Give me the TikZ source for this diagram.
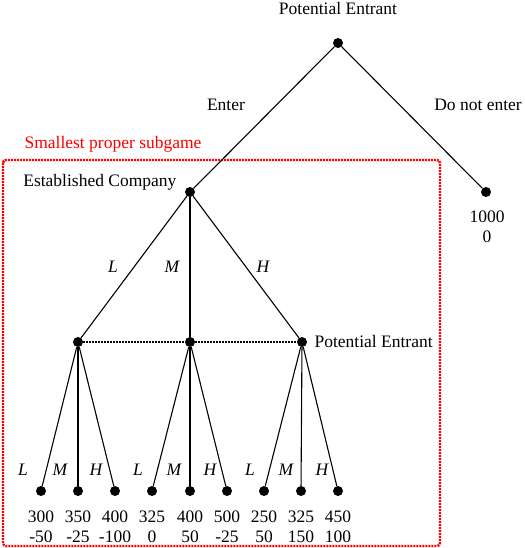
\documentclass[tikz,border=0pt]{standalone}
\usepackage{fontspec}
\setmainfont{Liberation Serif}
\usetikzlibrary{positioning,calc}

\begin{document}
\begin{tikzpicture}[x=1pt,y=-1pt,font=\fontsize{17.5}{20}\selectfont,
 dot/.style={circle, fill=black, inner sep=0pt, minimum size=10pt},
 edge/.style={line width=1.1pt},
 act/.style={font=\fontsize{17.5}{20}\selectfont\itshape},
 pay/.style={align=center, font=\fontsize{17.5}{20}\selectfont}]
  \useasboundingbox (0,0) rectangle (524,548);

  % subgame box
  \draw[red, line width=2.4pt, dash pattern=on 2pt off 1pt, rounded corners=3pt] (3,160) rectangle (440,546);
  \node[red] (sub) at (113,144) {Smallest proper subgame};

  % first move
  \node[dot] (root) at (338,43) {};
  \node (rootlab) at (338,9) {Potential Entrant};
  \node[dot] (ec) at (190,192) {};
  \node[anchor=east] (eclab) at (180,182) {Established Company};
  \node[dot] (out) at (486,192) {};
  \node[pay] (outpay) at (487,227) {1000\\0};
  \draw[edge] (root) -- (ec);
  \draw[edge] (root) -- (out);
  \node (enter) at (226,105) {Enter};
  \node (noenter) at (478,105) {Do not enter};

  % second move
  \node[dot] (pl) at (78,342) {};
  \node[dot] (pm) at (190,342) {};
  \node[dot] (ph) at (302,342) {};
  \draw[edge] (ec) -- (pl);
  \draw[edge] (ec) -- (pm);
  \draw[edge] (ec) -- (ph);
  \node[act] (al) at (113,267) {L};
  \node[act] (am) at (172,267) {M};
  \node[act] (ah) at (263,267) {H};
  \draw[line width=2.4pt, dash pattern=on 2pt off 1pt] (pl) -- (pm) -- (ph);
  \node[anchor=west] (pelab) at (311,342) {Potential Entrant};

  % third move
  \foreach \p/\i/\x/\a/\b in {pl/1/41/300/-50, pl/2/78/350/-25, pl/3/115/400/-100,
                              pm/4/152/325/0, pm/5/190/400/50, pm/6/227/500/-25,
                              ph/7/264/250/50, ph/8/301/325/150, ph/9/338/450/100}{
    \node[dot] (t\i) at (\x,491) {};
    \draw[edge] (\p) -- (t\i);
    \node[pay] (pay\i) at (\x,527) {\a\\\b};
  }
  \foreach \n/\x/\s in {1/23/L, 2/60/M, 3/96/H, 4/138/L, 5/174/M, 6/210/H,
                        7/250/L, 8/286/M, 9/322/H}{
    \node[act] (b\n) at (\x,470) {\s};
  }
\end{tikzpicture}
\end{document}
